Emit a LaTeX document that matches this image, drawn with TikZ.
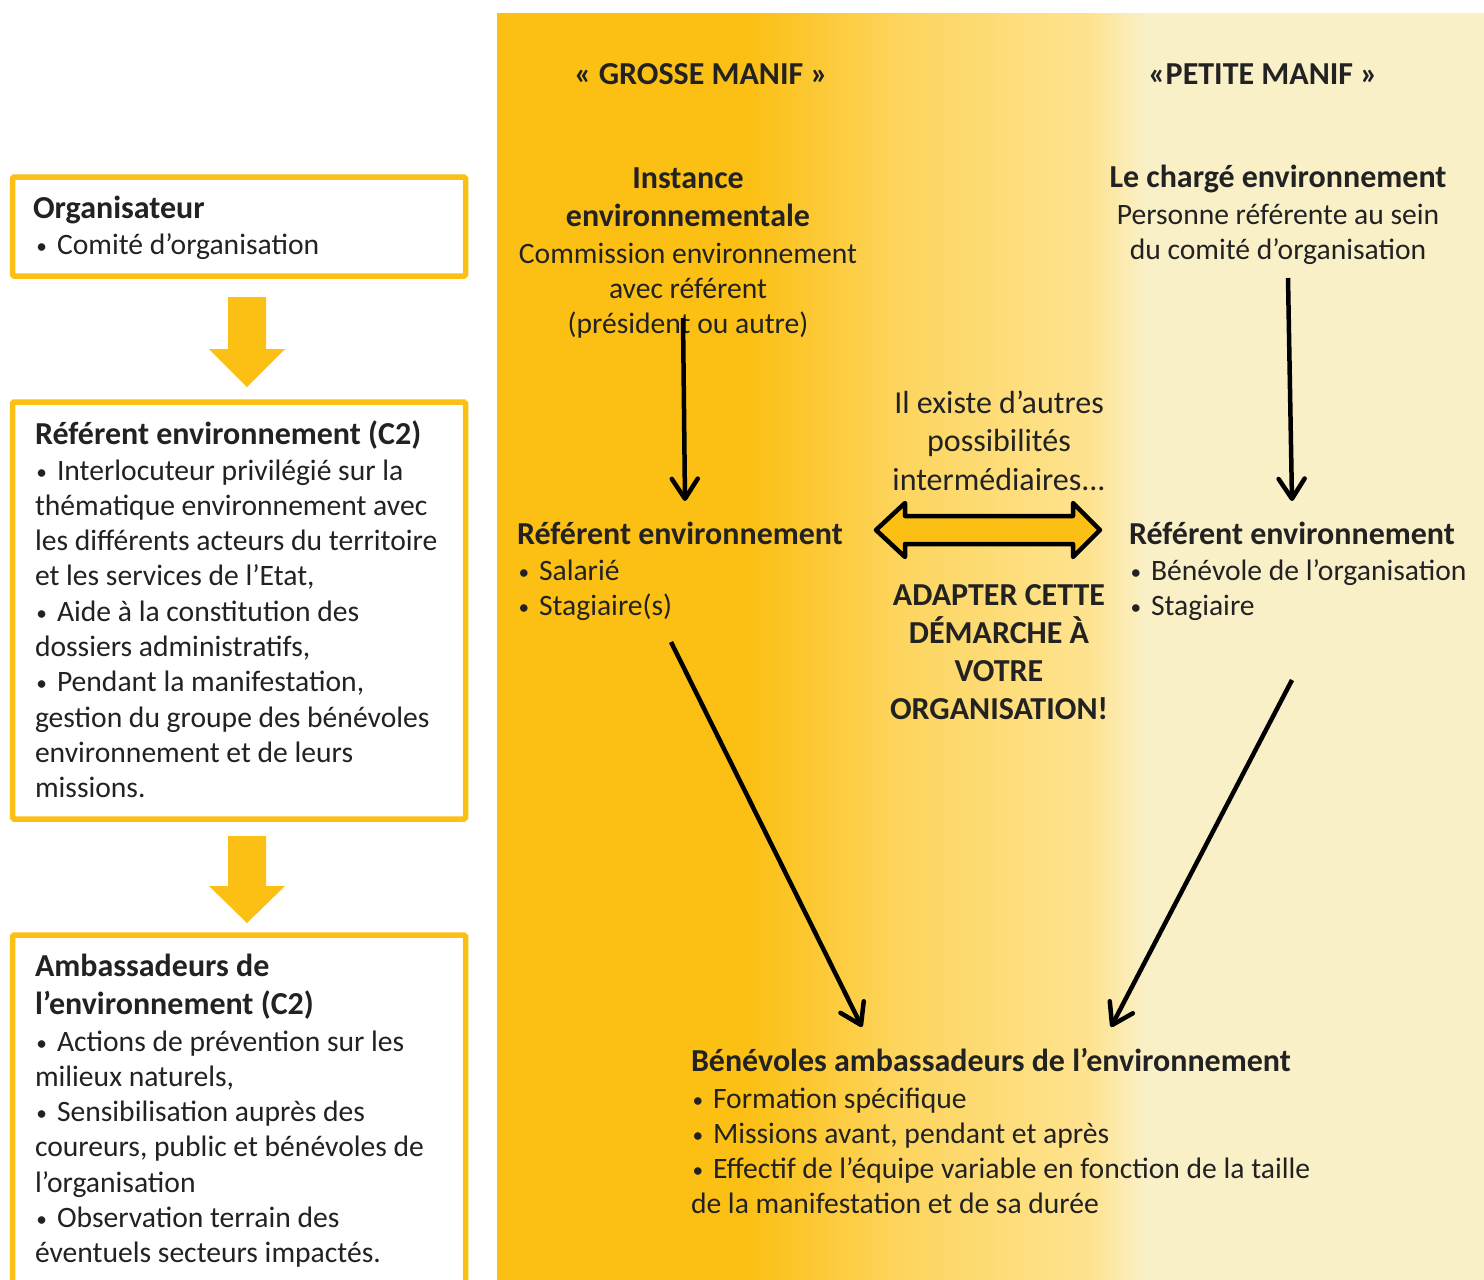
\documentclass[tikz,border=0pt]{standalone}
\usepackage{fontspec}
\setmainfont{Carlito}
\usetikzlibrary{arrows.meta}
\definecolor{ylw}{HTML}{FCC015}
\definecolor{ylwmid}{HTML}{FDD55E}
\definecolor{ylwlt}{HTML}{FEE390}
\definecolor{cream}{HTML}{FAF0C8}
\definecolor{ink}{HTML}{222222}
\newcommand\fstrut{\rule{0pt}{30pt}}
\newcommand\bul{\makebox[22pt][l]{\hspace{1.5pt}\raisebox{1pt}{\scalebox{0.72}{•}}}}
\begin{document}
\begin{tikzpicture}[x=1pt,y=-1pt,
  txt/.style={inner sep=0pt, outer sep=0pt, text=ink, font=\fontsize{29.6}{35.3}\selectfont, align=left, anchor=north west},
  hd/.style={txt, font=\bfseries\fontsize{32}{38}\selectfont},
  big/.style={txt, font=\fontsize{32}{38.5}\selectfont},
  ctr/.style={align=center, anchor=north},
  frame/.style={draw=ylw, line width=5.5pt, rounded corners=1.5pt},
  bigarrow/.style={fill=ylw, draw=none},
  conn/.style={draw=black, line width=4.5pt, -{Straight Barb[length=20pt,width=26pt,line width=4.5pt,round]}}
]
\useasboundingbox (0,0) rectangle (1484,1280);
\clip (0,0) rectangle (1484,1280);
\fill[white] (0,0) rectangle (1484,1280);

% background panel
\fill[ylw] (497,13) rectangle (751,1281);
\shade[left color=ylw, right color=ylwmid] (750,13) rectangle (901,1281);
\shade[left color=ylwmid, right color=ylwlt] (900,13) rectangle (1091,1281);
\shade[left color=ylwlt, right color=cream] (1090,13) rectangle (1146,1281);
\fill[cream] (1145,13) rectangle (1484,1281);

% left column
\draw[frame] (12.5,177) rectangle (465.5,276);
\node[hd] (org) at (33,188) {\fstrut Organisateur};
\node[txt] (orgb) at (35,224) {\fstrut\bul Comité d’organisation};

\fill[bigarrow] (228,297) -- (266,297) -- (266,349) -- (285,349) -- (247,387) -- (209,349) -- (228,349) -- cycle;

\draw[frame] (12.5,402) rectangle (465.5,819);
\node[hd] (ref) at (35,414) {\fstrut Référent environnement (C2)};
\node[txt] (refb) at (35,450) {\fstrut\bul Interlocuteur privilégié sur la\\
thématique environnement avec\\
les différents acteurs du territoire\\
et les services de l’Etat,\\
\bul Aide à la constitution des\\
dossiers administratifs,\\
\bul Pendant la manifestation,\\
gestion du groupe des bénévoles\\
environnement et de leurs\\
missions.};

\fill[bigarrow] (228,836) -- (266,836) -- (266,886) -- (285,886) -- (247,923) -- (209,886) -- (228,886) -- cycle;

\draw[frame] (12.5,935) rectangle (465.5,1300);
\node[hd] (amb) at (35,946) {\fstrut Ambassadeurs de\\ l’environnement (C2)};
\node[txt] (ambb) at (35,1021) {\fstrut\bul Actions de prévention sur les\\
milieux naturels,\\
\bul Sensibilisation auprès des\\
coureurs, public et bénévoles de\\
l’organisation\\
\bul Observation terrain des\\
éventuels secteurs impactés.};

% titles
\node[hd,ctr] (grosse) at (701,54) {\fstrut « GROSSE MANIF »};
\node[hd,ctr] (petite) at (1263,54) {\fstrut «PETITE MANIF »};

% top blocks
\node[hd,ctr] (inst) at (688,158) {\fstrut Instance\\ environnementale};
\node[txt,ctr] (instb) at (688,233) {\fstrut Commission environnement\\ avec référent\\ (président ou autre)};

\node[hd,ctr] (charge) at (1278,157) {\fstrut Le chargé environnement};
\node[txt,ctr] (chargeb) at (1278,194) {\fstrut Personne référente au sein\\ du comité d’organisation};

% middle blocks
\node[hd] (refl) at (517,514) {\fstrut Référent environnement};
\node[txt] (reflb) at (517,550) {\fstrut\bul Salarié\\ \bul Stagiaire(s)};

\node[hd] (refr) at (1129,514) {\fstrut Référent environnement};
\node[txt] (refrb) at (1129,550) {\fstrut\bul Bénévole de l’organisation\\ \bul Stagiaire};

\node[big,ctr] (autres) at (999,383) {\fstrut Il existe d’autres\\ possibilités\\ intermédiaires...};
\node[hd,ctr] (adapter) at (999,575) {\fstrut ADAPTER CETTE\\ DÉMARCHE À\\ VOTRE\\ ORGANISATION!};

% bottom block
\node[hd] (benev) at (691,1041) {\fstrut Bénévoles ambassadeurs de l’environnement};
\node[txt] (benevb) at (691,1078) {\fstrut\bul Formation spécifique\\
\bul Missions avant, pendant et après\\
\bul Effectif de l’équipe variable en fonction de la taille\\
de la manifestation et de sa durée};

% double arrow
\draw[fill=ylw, draw=black, line width=4.5pt, line join=round]
  (876,530) -- (905,503) -- (905,516) -- (1073,516) -- (1073,503) -- (1100,530)
  -- (1073,557) -- (1073,544) -- (905,544) -- (905,557) -- cycle;

% connectors
\coordinate (a1s) at (683,318);
\coordinate (a1e) at (685,501);
\coordinate (a2s) at (1288,278);
\coordinate (a2e) at (1292,501);
\coordinate (a3s) at (671,642);
\coordinate (a3e) at (862,1027);
\coordinate (a4s) at (1292,680);
\coordinate (a4e) at (1111,1027);
\draw[conn] (a1s) -- (a1e);
\draw[conn] (a2s) -- (a2e);
\draw[conn] (a3s) -- (a3e);
\draw[conn] (a4s) -- (a4e);
\end{tikzpicture}
\end{document}
